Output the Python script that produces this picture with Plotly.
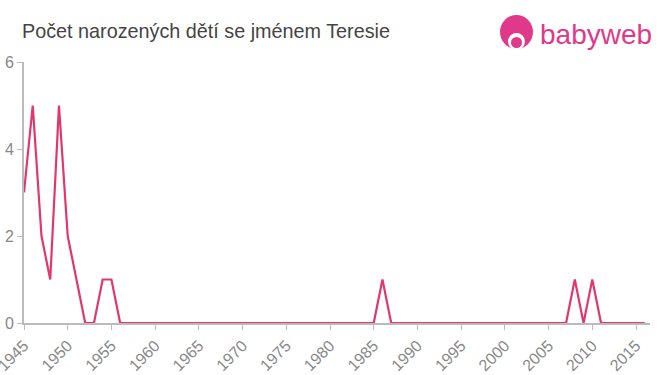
import plotly.graph_objects as go

years = list(range(1945, 2017))
counts_map = {1945: 3, 1946: 5, 1947: 2, 1948: 1, 1949: 5, 1950: 2, 1951: 1,
              1954: 1, 1955: 1, 1986: 1, 2008: 1, 2010: 1}
counts = [counts_map.get(y, 0) for y in years]
x_ticks = list(range(1945, 2020, 5))
y_ticks = [0, 2, 4, 6]

fig = go.Figure()
fig.add_trace(go.Scatter(x=years, y=counts, mode="lines",
                         line=dict(color="#e0386c", width=2.2), hoverinfo="x+y"))

fig.update_layout(
    width=660, height=375,
    margin=dict(l=24, r=10, t=62, b=52),
    paper_bgcolor="white", plot_bgcolor="white",
    showlegend=False,
    font=dict(family="Liberation Sans, Arial, sans-serif", color="#888"),
    title=dict(text="Počet narozených dětí se jménem Teresie",
               x=22/660, xanchor="left", y=1-31/375, yanchor="middle",
               font=dict(size=19.8, color="#444")),
    xaxis=dict(range=[1945, 2016.6], tickvals=x_ticks, ticktext=[str(t) for t in x_ticks],
               tickangle=-45, showgrid=False, zeroline=False, showline=True,
               linecolor="#bbb", linewidth=2, ticks="outside", ticklen=5,
               tickcolor="#bbb", tickfont=dict(size=16, color="#888"),
               automargin=False, ticklabeloverflow="allow"),
    yaxis=dict(range=[0, 6], tickvals=y_ticks, showgrid=False, zeroline=False,
               showline=True, linecolor="#bbb", linewidth=2, ticks="outside",
               ticklen=5, tickcolor="#bbb", tickfont=dict(size=16, color="#888"),
               automargin=False, ticklabeloverflow="allow"),
)

# logo
def px(xp):
    return (xp - 24) / 626

def py(yp):
    return (323 - yp) / 261

fig.add_shape(type="circle", xref="paper", yref="paper",
              x0=px(500), x1=px(533), y0=py(49), y1=py(15),
              fillcolor="#e0398a", line=dict(width=0))
fig.add_shape(type="circle", xref="paper", yref="paper",
              x0=px(508), x1=px(525), y0=py(50), y1=py(33),
              fillcolor="white", line=dict(width=0))
fig.add_shape(type="circle", xref="paper", yref="paper",
              x0=px(511), x1=px(522), y0=py(48), y1=py(37),
              fillcolor="#e0398a", line=dict(width=0))
fig.add_annotation(text="babyweb", xref="paper", yref="paper",
                   x=px(538), y=py(34), xanchor="left", yanchor="middle",
                   showarrow=False, font=dict(size=28, color="#e0398a",
                                              family="Liberation Sans, Arial, sans-serif"))

fig.write_html("out.html")
